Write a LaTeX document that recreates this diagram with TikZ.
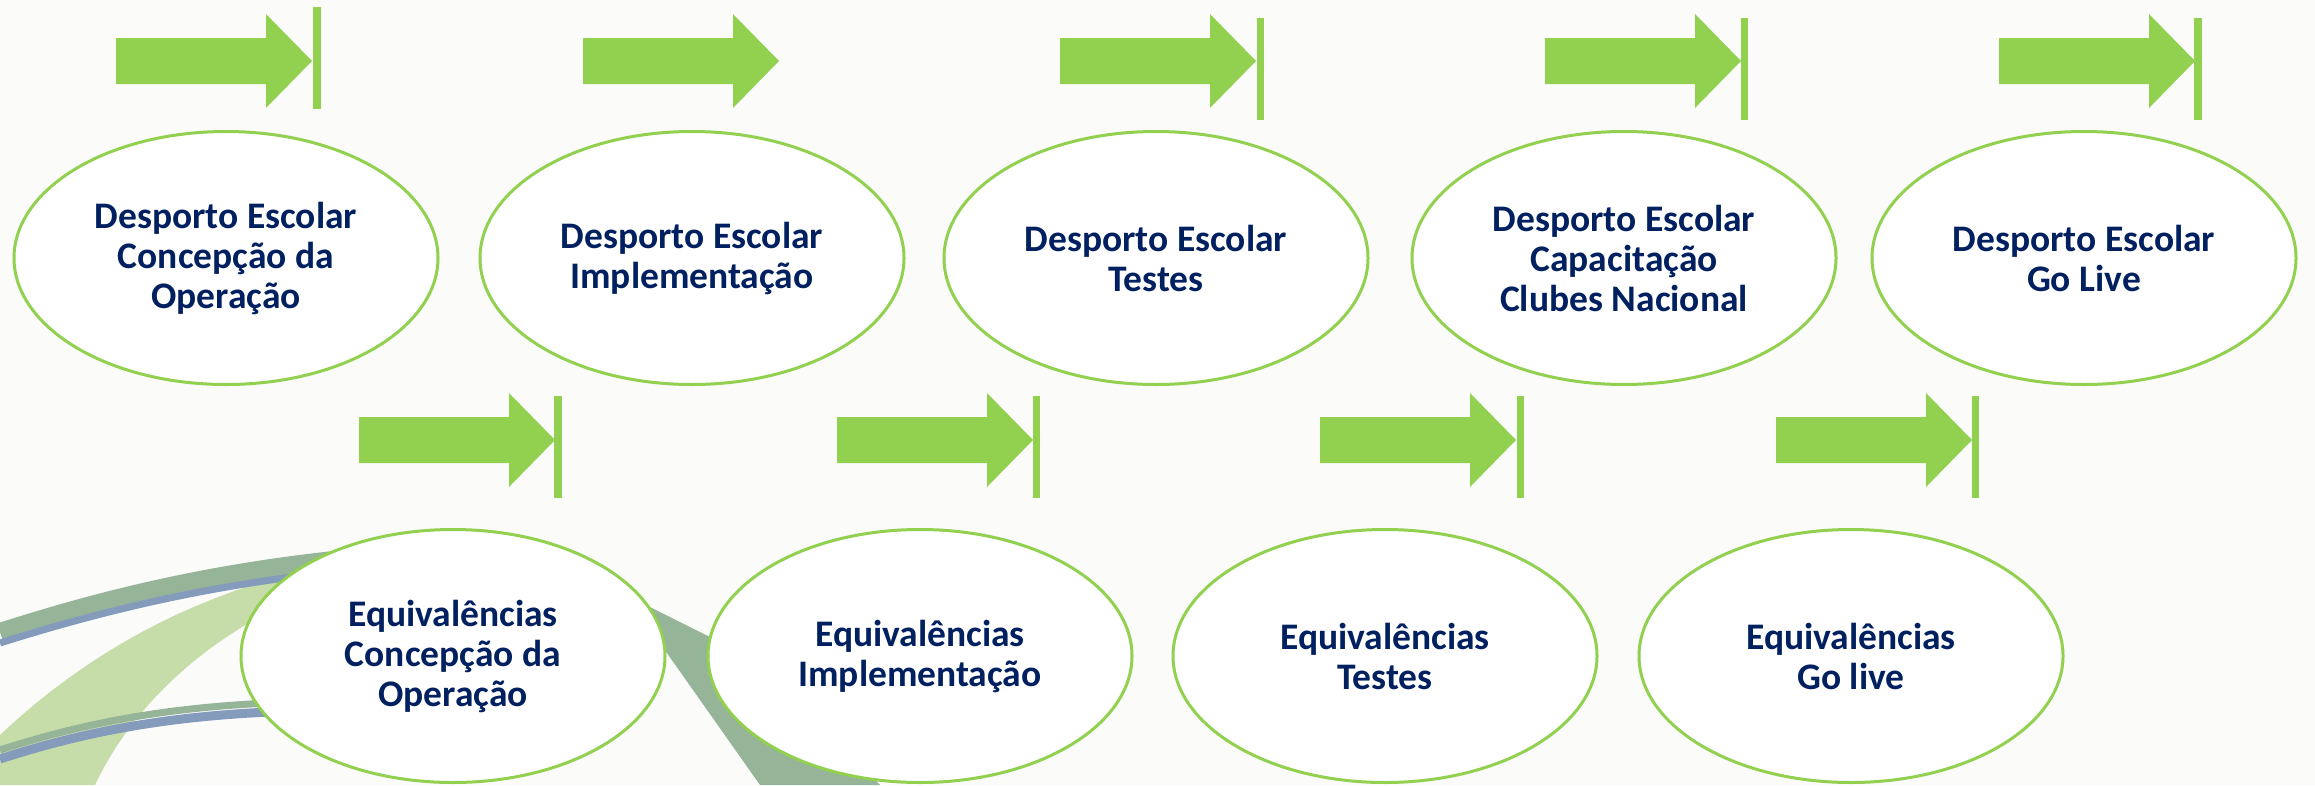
\documentclass[tikz,border=0pt]{standalone}
\usepackage{fontspec}
\setmainfont{Carlito}
\usepackage{tikz}
\usetikzlibrary{shapes.geometric}
\definecolor{stgreen}{RGB}{146,208,80}
\definecolor{stnavy}{RGB}{0,32,96}
\definecolor{bgwhite}{RGB}{251,251,250}
\definecolor{swlight}{RGB}{198,221,170}
\definecolor{swdark}{RGB}{150,180,152}
\definecolor{swblue}{RGB}{132,155,188}

% block arrow: start x, centre y
\newcommand{\stagearrow}[2]{\fill[stgreen] (#1,#2-23) -- ++(150,0) -- ++(0,-24) -- ++(46,47) -- ++(-46,47) -- ++(0,-24) -- ++(-150,0) -- cycle;}

\tikzset{stage/.style={draw=stgreen,line width=3pt,fill=white,ellipse,minimum width=424pt,minimum height=253pt,inner sep=0pt,align=center,text=stnavy,font=\fontsize{37.5}{40}\selectfont\bfseries}}

\begin{document}
\begin{tikzpicture}[x=1pt,y=-1pt]
\useasboundingbox (0,0) rectangle (2315,785);
\fill[bgwhite] (0,0) rectangle (2315,785);

% Background swooshes
\fill[swlight] (0,735) .. controls (90,650) and (200,590) .. (340,562) -- (340,580) .. controls (230,620) and (140,690) .. (95,785) -- (0,785) -- cycle;
\draw[swdark,line width=18pt] (0,632) .. controls (130,590) and (260,562) .. (430,552);
\draw[swblue,line width=7pt] (0,643) .. controls (130,602) and (260,574) .. (430,564);
\fill[swdark] (626,595) -- (760,662) -- (880,785) -- (760,785) -- cycle;
\draw[swdark,line width=7pt] (0,750) .. controls (80,724) and (170,705) .. (300,702);
\draw[swblue,line width=9pt] (0,759) .. controls (80,733) and (170,714) .. (300,711);

% Desporto Escolar
\node[stage] (desp1) at (226,258) {Desporto Escolar\\Concepção da\\Operação};
\node[stage] (desp2) at (692,258) {Desporto Escolar\\Implementação};
\node[stage] (desp3) at (1156,258) {Desporto Escolar\\Testes};
\node[stage] (desp4) at (1624,258) {Desporto Escolar\\Capacitação\\Clubes Nacional};
\node[stage] (desp5) at (2084,258) {Desporto Escolar\\Go Live};

% Equivalencias
\node[stage] (equiv1) at (453,656) {Equivalências\\Concepção da\\Operação};
\node[stage] (equiv2) at (920,656) {Equivalências\\Implementação};
\node[stage] (equiv3) at (1385,656) {Equivalências\\Testes};
\node[stage] (equiv4) at (1851,656) {Equivalências\\Go live};

% Arrows, top row
\stagearrow{116}{61}
\fill[stgreen] (313,7) rectangle ++(8,102);
\stagearrow{583}{61}
\stagearrow{1060}{61}
\fill[stgreen] (1257,18) rectangle ++(7,102);
\stagearrow{1545}{61}
\fill[stgreen] (1741,18) rectangle ++(7,102);
\stagearrow{1999}{61}
\fill[stgreen] (2194,18) rectangle ++(8,102);

% Arrows, bottom row
\stagearrow{359}{440}
\fill[stgreen] (554,396) rectangle ++(8,102);
\stagearrow{837}{440}
\fill[stgreen] (1033,396) rectangle ++(7,102);
\stagearrow{1320}{440}
\fill[stgreen] (1517,396) rectangle ++(7,102);
\stagearrow{1776}{440}
\fill[stgreen] (1972,396) rectangle ++(7,102);
\end{tikzpicture}
\end{document}
